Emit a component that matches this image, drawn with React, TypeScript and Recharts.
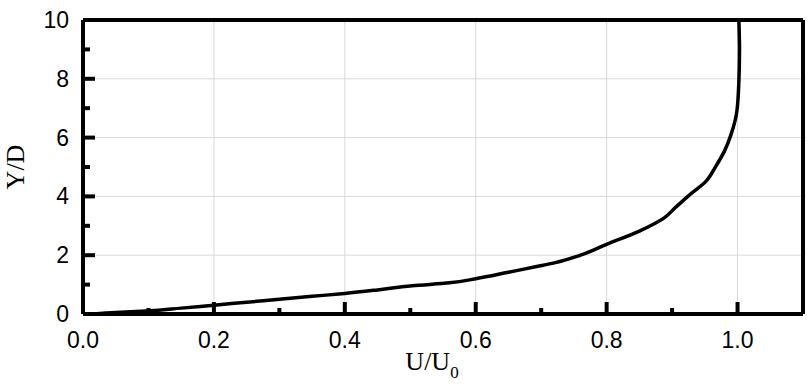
import { LineChart, CartesianGrid, XAxis, YAxis, Line, ReferenceLine } from "recharts"

// velocity profile U/U0 against Y/D
const uValues = [
    0.016, 0.05, 0.096, 0.15, 0.2, 0.25, 0.3, 0.35, 0.4, 0.45, 0.503, 0.56, 0.6, 0.65, 0.697, 0.72, 0.76, 0.8,
    0.85, 0.888, 0.905, 0.925, 0.952, 0.967, 0.98, 0.99, 0.999, 1.002, 1.003, 1.002,
]
const yValues = [
    0, 0.05, 0.1, 0.2, 0.3, 0.4, 0.5, 0.6, 0.7, 0.82, 0.96, 1.06, 1.2, 1.42, 1.63, 1.74, 2.0, 2.37, 2.82, 3.27,
    3.62, 4.02, 4.52, 5.03, 5.54, 6.1, 6.9, 7.9, 9.0, 10,
]

const xTicks = [0, 0.1, 0.2, 0.3, 0.4, 0.5, 0.6, 0.7, 0.8, 0.9, 1.0]
const yTicks = [0, 1, 2, 3, 4, 5, 6, 7, 8, 9, 10]
const xGrid = [0.2, 0.4, 0.6, 0.8, 1.0]
const yGrid = [2, 4, 6, 8]

const tickFont = "Arial, 'Liberation Sans', sans-serif"
const titleFont = "'Times New Roman', 'Liberation Serif', serif"

// inward ticks, minor ones without label
const XTick = (props: any) => {
    const { x, y, payload } = props
    const v = payload.value
    const major = Math.round(v * 10) % 2 === 0
    return (
        <g>
            <line x1={x} x2={x} y1={y} y2={y - (major ? 12 : 6)} stroke="#000" strokeWidth={4} />
            {major && (
                <text x={x} y={y + 34} textAnchor="middle" fontSize={23} fontFamily={tickFont} fill="#000">
                    {v.toFixed(1)}
                </text>
            )}
        </g>
    )
}

const YTick = (props: any) => {
    const { x, y, payload } = props
    const v = payload.value
    const major = v % 2 === 0
    return (
        <g>
            <line x1={x} x2={x + (major ? 12 : 7)} y1={y} y2={y} stroke="#000" strokeWidth={4} />
            {major && (
                <text x={x - 14} y={y + 8} textAnchor="end" fontSize={23} fontFamily={tickFont} fill="#000">
                    {v}
                </text>
            )}
        </g>
    )
}

const YTitle = ({ viewBox }: any) => {
    const cx = 24
    const cy = viewBox.y + viewBox.height / 2
    return (
        <text x={cx} y={cy} transform={`rotate(-90 ${cx} ${cy})`} textAnchor="middle" fontSize={26} fontFamily={titleFont} fill="#000">
            Y/D
        </text>
    )
}

const XTitle = ({ viewBox }: any) => {
    const cx = viewBox.x + viewBox.width / 2 - 11
    const cy = viewBox.y + 56
    return (
        <text x={cx} y={cy} textAnchor="middle" fontSize={26} fontFamily={titleFont} fill="#000">
            U/U
            <tspan fontSize={17} dy={8}>
                0
            </tspan>
        </text>
    )
}

export default function App() {
    const data = uValues.map((u, i) => ({ u, y: yValues[i] }))

    return (
        <div style={{ position: "absolute", left: 0, top: 0, background: "#fff" }}>
            <LineChart width={812} height={384} data={data} margin={{ top: 20, right: 9, bottom: 0, left: 0 }}>
                <CartesianGrid stroke="#d9d9d9" strokeWidth={1} horizontalValues={yGrid} verticalValues={xGrid} />
                <XAxis
                    dataKey="u"
                    type="number"
                    domain={[0, 1.1]}
                    ticks={xTicks}
                    interval={0}
                    height={70}
                    tickSize={0}
                    tickMargin={0}
                    tickLine={false}
                    tick={<XTick />}
                    axisLine={{ stroke: "#000", strokeWidth: 4 }}
                    label={{ content: XTitle }}
                />
                <YAxis
                    type="number"
                    domain={[0, 10]}
                    ticks={yTicks}
                    interval={0}
                    width={83}
                    tickSize={0}
                    tickMargin={0}
                    tickLine={false}
                    tick={<YTick />}
                    axisLine={{ stroke: "#000", strokeWidth: 4 }}
                    label={{ content: YTitle }}
                />
                <ReferenceLine y={10} stroke="#000" strokeWidth={4} />
                <ReferenceLine x={1.1} stroke="#000" strokeWidth={4} />
                <Line
                    type="monotoneY"
                    dataKey="y"
                    stroke="#000"
                    strokeWidth={3.5}
                    dot={false}
                    isAnimationActive={false}
                />
            </LineChart>
        </div>
    )
}
